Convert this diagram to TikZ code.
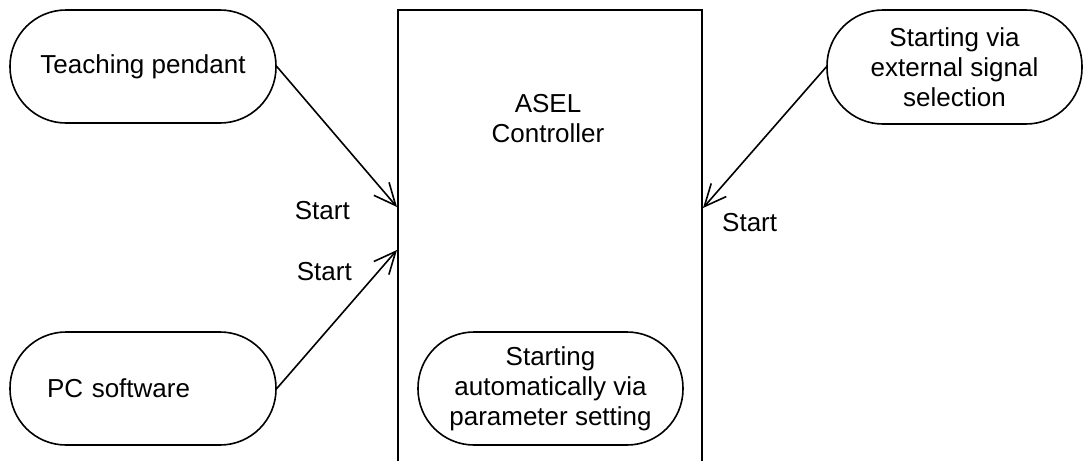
\documentclass[tikz,border=0pt]{standalone}
\usepackage{fontspec}
\setmainfont{Liberation Sans}
\usepackage{xcolor}
\usetikzlibrary{positioning, arrows.meta}

\begin{document}
\begin{tikzpicture}[
  x=1pt, y=-1pt,
  every node/.style={inner sep=2pt, font=\fontsize{26}{30}\selectfont},
  term/.style={draw, line width=1.6pt, rounded corners=56pt, align=center,
               minimum width=266pt, minimum height=113pt},
  lbl/.style={inner sep=2pt},
  arrow/.style={-{Straight Barb[length=22pt, width=20pt]}, line width=1.6pt}
]
\useasboundingbox (0,0) rectangle (1083,461);

% controller frame, open at the bottom
\draw[line width=1.6pt] (398,461) -- (398,10) -- (702,10) -- (702,461);
\node[align=center] (ctrl) at (548,118.5) {ASEL\\Controller};
\coordinate (tipA) at (397,207);
\coordinate (tipB) at (397,250);
\coordinate (tipC) at (703,208);

\node[term] (pend) at (143,66.5) {Teaching pendant};
\node[term, align=left, text width=192pt, inner xsep=37pt] (pcsw) at (143,388.5) {PC software};
\node[term, minimum width=255pt, minimum height=114pt] (extsig) at (954.5,67) {Starting via\\external signal\\selection};
\node[term, minimum width=265pt] (autopar) at (550.5,388.5) {Starting\\automatically via\\parameter setting};

\draw[arrow] (pend.east) -- (tipA);
\node[lbl, left=45pt of tipA, yshift=-4pt] (startA) {Start};
\draw[arrow] (pcsw.east) -- (tipB);
\node[lbl, below left=10pt and 43pt of tipB] (startB) {Start};
\draw[arrow] (extsig.west) -- (tipC);
\node[lbl, below right=3pt and 17pt of tipC] (startC) {Start};
\end{tikzpicture}
\end{document}
